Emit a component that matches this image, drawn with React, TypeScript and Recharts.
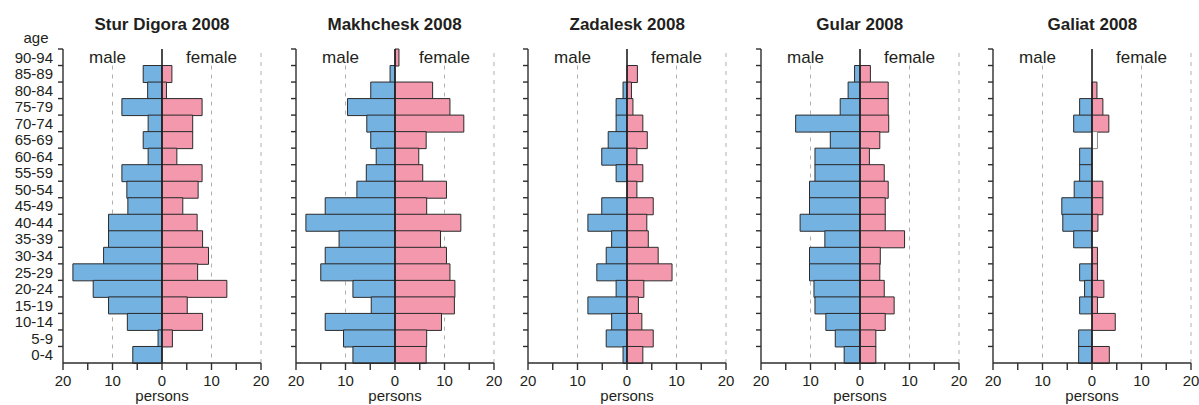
import React from 'react';
import { BarChart, Bar, XAxis, YAxis, ReferenceLine, ReferenceDot, Cell } from 'recharts';

// ---------- data (rows listed top to bottom: 90-94 first) ----------
const AGE_GROUPS = ['90-94', '85-89', '80-84', '75-79', '70-74', '65-69', '60-64', '55-59', '50-54', '45-49', '40-44', '35-39', '30-34', '25-29', '20-24', '15-19', '10-14', '5-9', '0-4'];

const PANEL_TITLES = ['Stur Digora 2008', 'Makhchesk 2008', 'Zadalesk 2008', 'Gular 2008', 'Galiat 2008'];

const STUR_DIGORA_MALE = [0, 3.8, 2.9, 8.1, 2.8, 3.8, 2.8, 8.1, 7.1, 6.9, 10.8, 10.8, 11.8, 18.0, 13.9, 10.8, 7.0, 0.8, 5.9];
const STUR_DIGORA_FEMALE = [0, 2.0, 0.9, 8.1, 6.2, 6.2, 3.0, 8.1, 7.3, 4.2, 7.1, 8.2, 9.4, 7.2, 13.1, 5.1, 8.2, 2.1, 0];

const MAKHCHESK_MALE = [0, 1.0, 4.9, 9.6, 5.7, 4.9, 3.8, 5.8, 7.7, 14.1, 18.0, 11.3, 14.1, 15.0, 8.5, 4.8, 14.1, 10.4, 8.5];
const MAKHCHESK_FEMALE = [0.8, 0, 7.6, 11.1, 13.9, 6.3, 4.8, 5.6, 10.4, 6.4, 13.3, 9.2, 10.4, 11.1, 12.1, 12.0, 9.4, 6.4, 6.3];

const ZADALESK_MALE = [0, 0, 0.8, 2.2, 2.2, 3.8, 5.1, 2.2, 0, 5.1, 7.9, 3.1, 4.2, 6.1, 2.2, 7.9, 3.1, 4.2, 0.8];
const ZADALESK_FEMALE = [0, 2.1, 0.9, 1.2, 3.2, 4.1, 2.0, 3.2, 2.0, 5.3, 4.0, 4.3, 6.3, 9.1, 3.4, 2.3, 3.0, 5.3, 3.2];

const GULAR_MALE = [0, 1.1, 2.4, 4.0, 13.0, 6.0, 9.1, 9.1, 10.2, 10.2, 12.1, 7.1, 10.2, 10.2, 9.3, 9.1, 6.9, 5.0, 3.2];
const GULAR_FEMALE = [0, 2.1, 5.7, 5.7, 5.8, 4.0, 1.9, 4.9, 5.7, 5.1, 5.1, 9.0, 4.1, 4.0, 4.9, 6.9, 5.1, 3.2, 3.2];

const GALIAT_MALE = [0, 0, 0, 2.5, 3.7, 0, 2.5, 2.5, 3.6, 6.1, 5.9, 3.7, 0, 2.5, 1.5, 2.5, 0, 2.7, 2.7];
const GALIAT_FEMALE = [0, 0, 1.0, 2.2, 3.4, 1.1, 0, 0, 2.2, 2.2, 1.2, 0, 1.1, 1.1, 2.4, 1.1, 4.7, 0, 3.5];

const X_TICKS = [-20, -15, -10, -5, 0, 5, 10, 15, 20];
const X_DOMAIN = [-20, 20];
const GRID_X = [-10, 10];

// bars drawn hollow in the reference (panel index, age group)
const HOLLOW_FEMALE = [{ panel: 4, age: '65-69' }];

const PANELS = [
  { title: PANEL_TITLES[0], male: STUR_DIGORA_MALE, female: STUR_DIGORA_FEMALE },
  { title: PANEL_TITLES[1], male: MAKHCHESK_MALE, female: MAKHCHESK_FEMALE },
  { title: PANEL_TITLES[2], male: ZADALESK_MALE, female: ZADALESK_FEMALE },
  { title: PANEL_TITLES[3], male: GULAR_MALE, female: GULAR_FEMALE },
  { title: PANEL_TITLES[4], male: GALIAT_MALE, female: GALIAT_FEMALE },
];

// ---------- layout / style ----------
const FONT = '"Liberation Sans", Arial, Helvetica, sans-serif';
const TEXT = '#231f20';
const AXIS = '#2e2e2e';
const MALE_FILL = '#74b2e2';
const FEMALE_FILL = '#f498ae';
const BAR_STROKE = '#2b2b2b';
const GRID = '#b0b0b0';

const CHART_H = 405;
const MARGIN_TOP = 49;
const X_AXIS_H = 42;
const Y_AXIS_W = 63;
const PLOT_W = 198;
const RIGHT = 10;
const CHART_W = Y_AXIS_W + PLOT_W + RIGHT;
const STEP = 232.6;
const BAND = (CHART_H - MARGIN_TOP - X_AXIS_H) / AGE_GROUPS.length;
const Y_TICK_SIZE = 5;
const Y_TICK_MARGIN = 5;

const AgeTick = (props: any) => {
  const { x, y, payload, showLabel } = props;
  const axisX = x + Y_TICK_SIZE + Y_TICK_MARGIN;
  const top = y - BAND / 2;
  return (
    <g>
      <line x1={axisX - Y_TICK_SIZE} x2={axisX} y1={top} y2={top} stroke={AXIS} strokeWidth={1.4} />
      {showLabel && (
        <text x={x} y={y} dy="0.36em" textAnchor="end" fontSize={15} fill={TEXT} fontFamily={FONT}>
          {payload.value}
        </text>
      )}
    </g>
  );
};

const Panel = ({ index }: { index: number }) => {
  const p = PANELS[index];
  const data = AGE_GROUPS.map((age, i) => ({ age, male: -p.male[i], female: p.female[i] }));
  return (
    <BarChart
      width={CHART_W}
      height={CHART_H}
      data={data}
      layout="vertical"
      stackOffset="sign"
      barCategoryGap={0}
      margin={{ top: MARGIN_TOP, right: RIGHT, bottom: 0, left: 0 }}
    >
      <XAxis
        type="number"
        domain={X_DOMAIN}
        ticks={X_TICKS}
        interval={0}
        allowDataOverflow
        height={X_AXIS_H}
        tickSize={7}
        tickMargin={5}
        tickFormatter={(v: number) => (v % 10 === 0 ? String(Math.abs(v)) : '')}
        tick={{ fontSize: 15, fill: TEXT, fontFamily: FONT }}
        axisLine={{ stroke: AXIS, strokeWidth: 1.4 }}
        tickLine={{ stroke: AXIS, strokeWidth: 1.4 }}
        label={{ value: 'persons', position: 'insideBottom', offset: 4, fontSize: 15, fill: TEXT, fontFamily: FONT }}
      />
      <YAxis
        type="category"
        dataKey="age"
        width={Y_AXIS_W}
        interval={0}
        tickLine={false}
        tickSize={Y_TICK_SIZE}
        tickMargin={Y_TICK_MARGIN}
        axisLine={{ stroke: AXIS, strokeWidth: 1.4 }}
        tick={(tp: any) => <AgeTick {...tp} showLabel={index === 0} />}
      />
      {GRID_X.map((gx) => (
        <ReferenceLine
          key={gx}
          segment={[{ x: gx, y: AGE_GROUPS[0] }, { x: gx, y: AGE_GROUPS[AGE_GROUPS.length - 1] }]}
          position="end"
          ifOverflow="visible"
          stroke={GRID}
          strokeDasharray="4 5"
          {...({ zIndex: -1 } as any)}
        />
      ))}
      <ReferenceLine x={20} stroke={GRID} strokeDasharray="4 5" {...({ zIndex: -1 } as any)} />
      <Bar dataKey="male" stackId="s" fill={MALE_FILL} stroke={BAR_STROKE} strokeWidth={1} isAnimationActive={false} />
      <Bar dataKey="female" stackId="s" fill={FEMALE_FILL} stroke={BAR_STROKE} strokeWidth={1} isAnimationActive={false}>
        {data.map((d) => {
          const hollow = HOLLOW_FEMALE.some((h) => h.panel === index && h.age === d.age);
          return (
            <Cell key={d.age} fill={hollow ? '#ffffff' : FEMALE_FILL} stroke={hollow ? '#8a8a8a' : BAR_STROKE} />
          );
        })}
      </Bar>
      <ReferenceLine x={0} stroke="#1e1e1e" strokeWidth={1.6} />
      <ReferenceDot
        x={-11}
        y={AGE_GROUPS[0]}
        r={0}
        fill="none"
        stroke="none"
        label={{ value: 'male', position: 'center', fontSize: 17, fill: TEXT, fontFamily: FONT }}
      />
      <ReferenceDot
        x={10}
        y={AGE_GROUPS[0]}
        r={0}
        fill="none"
        stroke="none"
        label={{ value: 'female', position: 'center', fontSize: 17, fill: TEXT, fontFamily: FONT }}
      />
    </BarChart>
  );
};

export default function App() {
  return (
    <div
      style={{
        position: 'absolute',
        left: 0,
        top: 0,
        width: 1199,
        height: 405,
        overflow: 'hidden',
        background: '#ffffff',
        fontFamily: FONT,
        color: TEXT,
      }}
    >
      {PANELS.map((p, i) => (
        <React.Fragment key={p.title}>
          <div style={{ position: 'absolute', left: STEP * i, top: 0, width: CHART_W, height: CHART_H }}>
            <Panel index={i} />
          </div>
          <div
            style={{
              position: 'absolute',
              left: STEP * i + Y_AXIS_W + PLOT_W / 2 - 110,
              top: 15,
              width: 220,
              textAlign: 'center',
              fontWeight: 'bold',
              fontSize: 17,
              lineHeight: '20px',
            }}
          >
            {p.title}
          </div>
        </React.Fragment>
      ))}
      <div style={{ position: 'absolute', left: 16, top: 29, width: 40, textAlign: 'center', fontSize: 15, lineHeight: '17px' }}>
        age
      </div>
    </div>
  );
}
